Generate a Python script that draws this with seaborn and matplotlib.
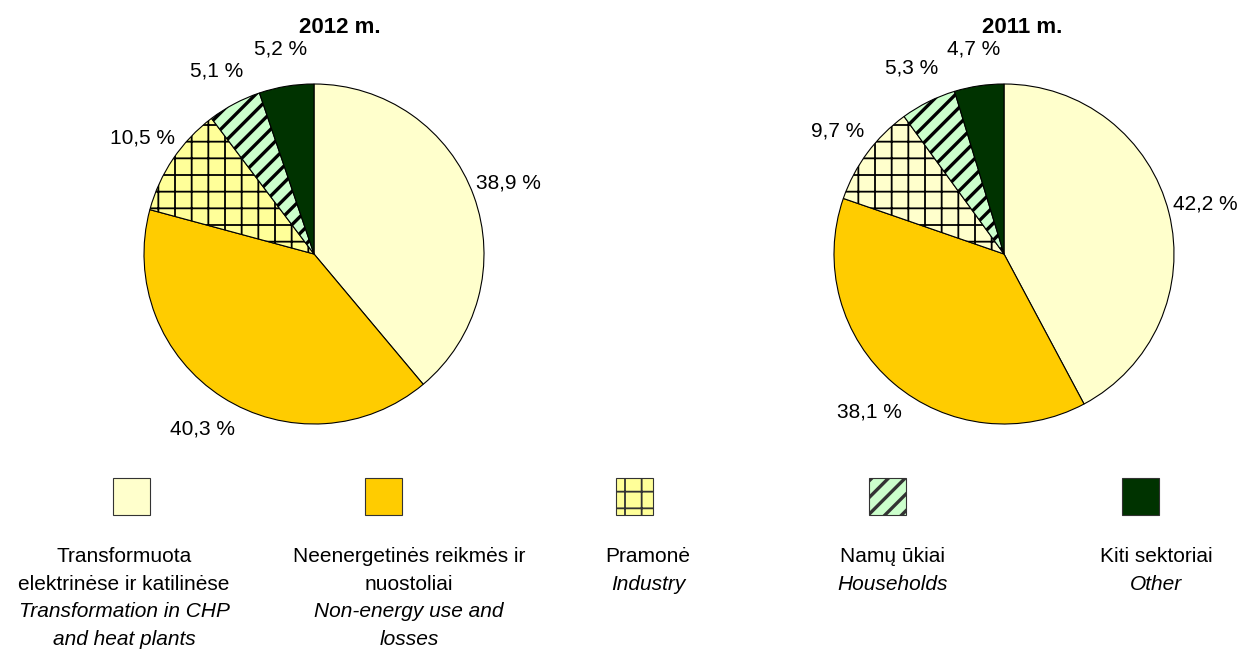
import matplotlib
matplotlib.use("Agg")
import matplotlib.pyplot as plt
import seaborn as sns
from matplotlib.patches import Rectangle

# --- data ---
years = ["2012 m.", "2011 m."]
shares_2012 = [38.9, 40.3, 10.5, 5.1, 5.2]
shares_2011 = [42.2, 38.1, 9.7, 5.3, 4.7]
labels_lt = ["Transformuota\nelektrinėse ir katilinėse",
             "Neenergetinės reikmės ir\nnuostoliai",
             "Pramonė",
             "Namų ūkiai",
             "Kiti sektoriai"]
labels_en = ["Transformation in CHP\nand heat plants",
             "Non-energy use and\nlosses",
             "Industry",
             "Households",
             "Other"]

colors_2012 = ["#FFFFCC", "#FFCC00", "#FFFF99", "#CCFFCC", "#003300"]
colors_2011 = ["#FFFFCC", "#FFCC00", "#FFFFCC", "#CCFFCC", "#003300"]
hatches = [None, None, "+", "//", None]
hatch_lw = [1.0, 1.0, 1.3, 2.4, 1.0]

sns.set_style("white")
plt.rcParams["font.family"] = ["Liberation Sans", "DejaVu Sans"]
plt.rcParams["text.color"] = "black"
plt.rcParams["hatch.color"] = "black"

W, H = 1247, 655
fig = plt.figure(figsize=(W / 100, H / 100), dpi=100)


def px_axes(cx, cy, half):
    return fig.add_axes([(cx - half) / W, 1 - (cy + half) / H, 2 * half / W, 2 * half / H])


def pct(p):
    return f"{p:.1f} %".replace(".", ",")


R = 170
pies = [(314, 254, shares_2012, colors_2012, 340),
        (1004, 254, shares_2011, colors_2011, 1022)]

for (cx, cy, vals, cols, tx), year in zip(pies, years):
    ax = px_axes(cx, cy, 1.5 * R)
    wedges, _, autotexts = ax.pie(
        vals, colors=cols, startangle=90, counterclock=False,
        autopct=pct, pctdistance=1.22,
        wedgeprops=dict(edgecolor="black", linewidth=0.8),
        textprops=dict(fontsize=15, color="black"))
    for w, h, lw in zip(wedges, hatches, hatch_lw):
        if h:
            w.set_hatch(h)
            if hasattr(w, "set_hatch_linewidth"):
                w.set_hatch_linewidth(lw)
    ax.set_xlim(-1.5, 1.5)
    ax.set_ylim(-1.5, 1.5)
    ax.axis("off")
    fig.text(tx / W, 1 - 33 / H, year, ha="center", va="baseline",
             fontsize=16, fontweight="bold")

# --- legend (manual, boxes above two-language labels) ---
box_x = [131, 384, 634, 887, 1140]
text_x = [124, 409, 648, 893, 1156]
box_w, box_top = 37, 478
row_base = [562, 590, 617, 645]

for i in range(5):
    rect = Rectangle(((box_x[i] - box_w / 2) / W, 1 - (box_top + box_w) / H),
                     box_w / W, box_w / H, transform=fig.transFigure,
                     facecolor=colors_2012[i], edgecolor="#333333", linewidth=0.8,
                     hatch=hatches[i])
    if hatches[i] and hasattr(rect, "set_hatch_linewidth"):
        rect.set_hatch_linewidth(hatch_lw[i])
    fig.add_artist(rect)
    lines = [(t, "normal") for t in labels_lt[i].split("\n")] + \
            [(t, "italic") for t in labels_en[i].split("\n")]
    for (t, style), yb in zip(lines, row_base):
        fig.text(text_x[i] / W, 1 - yb / H, t, ha="center", va="baseline",
                 fontsize=15, fontstyle=style, color="black")

fig.savefig("out.png", dpi=100, facecolor="white")
